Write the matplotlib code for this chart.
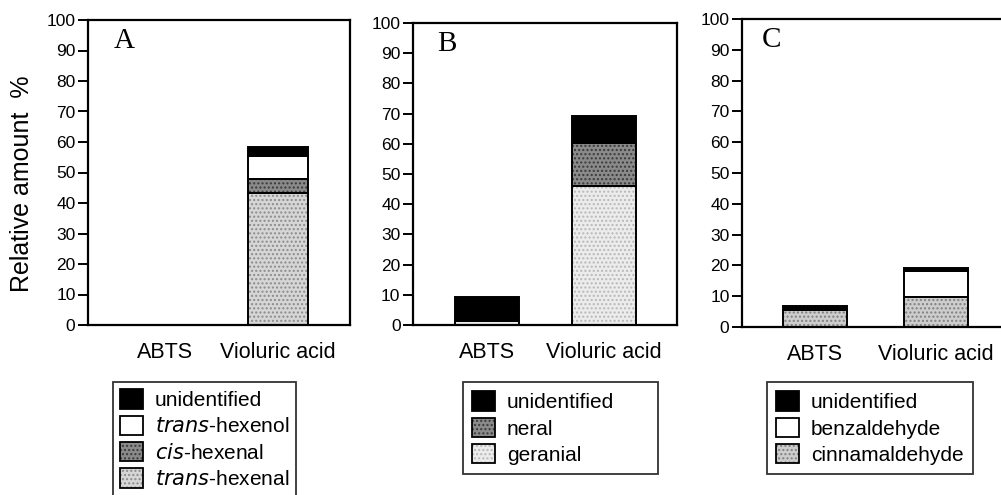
import matplotlib
matplotlib.use("Agg")
import matplotlib.pyplot as plt
from matplotlib.patches import Patch
from matplotlib.legend_handler import HandlerTuple

# ---- data ----
categories = ["ABTS", "Violuric acid"]

# Panel A (bottom to top)
a_trans_hexenal = [0.0, 43.2]
a_cis_hexenal = [0.0, 4.8]
a_trans_hexenol = [0.0, 7.3]
a_unidentified = [0.0, 2.9]

# Panel B
b_geranial = [1.3, 46.1]
b_neral = [0.0, 14.3]
b_unidentified = [8.1, 8.8]

# Panel C
c_cinnamaldehyde = [5.4, 9.8]
c_benzaldehyde = [0.0, 8.4]
c_unidentified = [1.3, 1.1]

yticks = [0, 10, 20, 30, 40, 50, 60, 70, 80, 90, 100]

plt.rcParams['font.family'] = ['Liberation Sans', 'DejaVu Sans']
plt.rcParams['hatch.linewidth'] = 1.0

W, H = 1001, 495
fig = plt.figure(figsize=(W / 100, H / 100), dpi=100)

def px_axes(left, top, right, bottom):
    return fig.add_axes([left / W, 1 - bottom / H, (right - left) / W, (bottom - top) / H])

# (face colour, hatch pattern, hatch colour)
S_BLACK = ("#000000", None, None)
S_WHITE = ("#ffffff", None, None)
S_DARK = ("#8a8a8a", "....", "#3a3a3a")
S_LIGHT = ("#d6d6d6", "....", "#8c8c8c")
S_VLIGHT = ("#ececec", "....", "#b8b8b8")
S_CINN = ("#cdcdcd", "....", "#808080")

def style(ax, xl, xr):
    ax.set_ylim(0, 100)
    ax.set_xlim(xl, xr)
    ax.set_yticks(yticks)
    ax.set_yticklabels([str(t) for t in yticks], fontsize=12.5)
    ax.set_xticks(range(len(categories)))
    ax.set_xticklabels(categories, fontsize=15.5)
    ax.tick_params(axis='x', length=0, pad=12)
    ax.tick_params(axis='y', direction='out', length=7, width=1.4, pad=2)
    for s in ax.spines.values():
        s.set_linewidth(1.6)
        s.set_zorder(5)

def stack(ax, series, styles, width):
    x = range(len(categories))
    bottom = [0.0] * len(categories)
    for vals, (fc, hatch, hc) in zip(series, styles):
        ax.bar(x, vals, width, bottom=bottom, color=fc, edgecolor='none', linewidth=0, zorder=2)
        if hatch:
            ax.bar(x, vals, width, bottom=bottom, fill=False, hatch=hatch, edgecolor=hc,
                   linewidth=0, zorder=3)
        ax.bar(x, vals, width, bottom=bottom, fill=False, edgecolor='black', linewidth=1.4, zorder=4)
        bottom = [b + v for b, v in zip(bottom, vals)]

# Panel A
axA = px_axes(88, 20, 350, 325)
stack(axA, [a_trans_hexenal, a_cis_hexenal, a_trans_hexenol, a_unidentified],
      [S_LIGHT, S_DARK, S_WHITE, S_BLACK], 0.53)
style(axA, -0.68, 1.64)
axA.text(0.10, 0.975, "A", transform=axA.transAxes, fontsize=21, va='top', ha='left',
         family=['Liberation Serif'])

# Panel B
axB = px_axes(413, 23, 677, 325)
stack(axB, [b_geranial, b_neral, b_unidentified], [S_VLIGHT, S_DARK, S_BLACK], 0.545)
style(axB, -0.626, 1.62)
axB.text(0.09, 0.975, "B", transform=axB.transAxes, fontsize=21, va='top', ha='left',
         family=['Liberation Serif'])

# Panel C
axC = px_axes(742, 19, 1008, 327)
stack(axC, [c_cinnamaldehyde, c_benzaldehyde, c_unidentified], [S_CINN, S_WHITE, S_BLACK], 0.53)
style(axC, -0.606, 1.60)
axC.text(0.075, 0.975, "C", transform=axC.transAxes, fontsize=21, va='top', ha='left',
         family=['Liberation Serif'])

fig.text(22 / W, 1 - 184 / H, "Relative amount  %", rotation=90, fontsize=18,
         ha='center', va='center')

def h(st):
    fc, hatch, hc = st
    base = Patch(facecolor=fc, edgecolor='none', linewidth=0)
    parts = [base]
    if hatch:
        parts.append(Patch(fill=False, hatch=hatch, edgecolor=hc, linewidth=0))
    parts.append(Patch(fill=False, edgecolor='black', linewidth=1.3))
    return tuple(parts)

def leg(styles, labels, left, top, width=None, borderpad=0.35):
    kw = {}
    if width is not None:
        anchor = (left / W, 1 - top / H - 0.5, width / W, 0.5)
        kw['mode'] = 'expand'
    else:
        anchor = (left / W, 1 - top / H)
    lg = fig.legend([h(s) for s in styles], labels, loc='upper left', bbox_to_anchor=anchor,
                    fontsize=15, frameon=True, fancybox=False, edgecolor='black',
                    handlelength=1.1, handleheight=1.05, handletextpad=0.55,
                    labelspacing=0.27, borderpad=borderpad, borderaxespad=0,
                    handler_map={tuple: HandlerTuple(ndivide=1, pad=0)}, **kw)
    lg.get_frame().set_linewidth(1.3)
    return lg

leg([S_BLACK, S_WHITE, S_DARK, S_LIGHT],
    ["unidentified", "$\\it{trans}$-hexenol", "$\\it{cis}$-hexenal", "$\\it{trans}$-hexenal"],
    113, 382)
leg([S_BLACK, S_DARK, S_VLIGHT], ["unidentified", "neral", "geranial"], 463, 382,
    width=195, borderpad=0.45)
leg([S_BLACK, S_WHITE, S_CINN], ["unidentified", "benzaldehyde", "cinnamaldehyde"], 767, 382,
    width=206, borderpad=0.45)

fig.savefig("out.png", dpi=100)
